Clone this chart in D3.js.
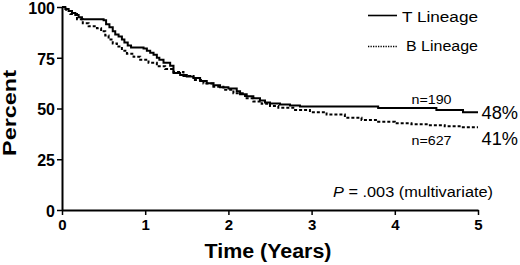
<!DOCTYPE html>
<html>
<head>
<meta charset="utf-8">
<script src="https://cdn.jsdelivr.net/npm/d3@7"></script>
<style>
  body { margin: 0; background: #fff; }
  svg { display: block; font-family: Arial, "Liberation Sans", sans-serif; }
</style>
</head>
<body>
<div id="chart"></div>
<script>
// Kaplan-Meier style step data (time in years, percent)
const tTimes = [0, 0.04, 0.08, 0.12, 0.16, 0.2, 0.24, 0.5, 0.53, 0.57, 0.61, 0.64, 0.68, 0.72, 0.75, 0.79, 0.83,
  0.98, 1.02, 1.06, 1.1, 1.14, 1.17, 1.22, 1.3, 1.34, 1.42, 1.5, 1.58, 1.66, 1.74, 1.82, 1.9, 2.0, 2.1, 2.14,
  2.22, 2.3, 2.38, 2.44, 2.5, 2.62, 2.74, 2.86, 3.8, 4.5, 4.82, 5];
const tValues = [100, 99, 98, 97, 96, 95, 94, 93.5, 91.5, 90, 88, 86.5, 85.5, 84, 82.5, 81, 80,
  79.5, 78.5, 77.5, 76.5, 75, 74, 72.5, 71, 67.5, 66.5, 65.8, 65, 63.5, 62.5, 61.5, 60.5, 59.8, 58.5, 57,
  56, 55, 54, 53, 52.5, 52, 51.5, 51, 50.3, 49.3, 48.2, 48.2];

const bTimes = [0, 0.05, 0.1, 0.18, 0.25, 0.32, 0.42, 0.47, 0.52, 0.56, 0.61, 0.66, 0.72, 0.78, 0.86, 0.94,
  1.04, 1.14, 1.24, 1.34, 1.46, 1.58, 1.7, 1.82, 1.94, 2.06, 2.2, 2.3, 2.4, 2.5, 2.6, 2.78, 2.98, 3.18, 3.4,
  3.6, 3.8, 4.0, 4.2, 4.4, 4.6, 4.8, 5];
const bValues = [100, 98, 96.5, 94, 92, 90.5, 89.5, 88, 86, 84, 82, 80.5, 78.5, 77, 75.5, 74,
  72.5, 70.8, 69.5, 68, 66, 64, 62.3, 60.7, 59.2, 57.5, 55, 53.5, 52.3, 51.2, 50.4, 49.3, 48.2, 47, 45.5,
  44.3, 43.5, 42.7, 42.2, 41.8, 41.2, 40.8, 40.8];

const xTicks = [0, 1, 2, 3, 4, 5];
const yTicks = [0, 25, 50, 75, 100];
const seriesNames = ["T Lineage", "B Lineage"];
const seriesN = ["n=190", "n=627"];
const seriesFinal = ["48%", "41%"];

const W = 520, H = 265;
const svg = d3.select("#chart").append("svg").attr("width", W).attr("height", H);

const x = d3.scaleLinear().domain([0, 5]).range([62, 478]);
const y = d3.scaleLinear().domain([0, 100]).range([210, 7]);

// axes
const yAxis = svg.append("g")
  .attr("transform", "translate(62,0)")
  .call(d3.axisLeft(y).tickValues(yTicks).tickFormat(d3.format("d"))
    .tickSize(5).tickSizeOuter(0).tickPadding(2));
const xAxis = svg.append("g")
  .attr("transform", "translate(0,210)")
  .call(d3.axisBottom(x).tickValues(xTicks).tickFormat(d3.format("d"))
    .tickSize(5).tickSizeOuter(0).tickPadding(3));

[yAxis, xAxis].forEach(g => {
  g.select(".domain").attr("stroke", "#000").attr("stroke-width", 2);
  g.selectAll(".tick line").attr("stroke", "#000").attr("stroke-width", 1.5);
  g.selectAll(".tick text").attr("fill", "#000").attr("font-weight", "bold")
    .attr("font-family", "Arial, 'Liberation Sans', sans-serif");
});
yAxis.selectAll(".tick text").attr("font-size", 16).attr("dy", "0.4em");
xAxis.selectAll(".tick text").attr("font-size", 15).attr("dy", "0.78em");

// curves
const line = d3.line()
  .x(d => x(d[0]))
  .y(d => y(d[1]))
  .curve(d3.curveStepAfter);

const tData = tTimes.map((t, i) => [t, tValues[i]]);
const bData = bTimes.map((t, i) => [t, bValues[i]]);

svg.append("path").datum(bData)
  .attr("d", line).attr("fill", "none").attr("stroke", "#000")
  .attr("stroke-width", 2).attr("stroke-dasharray", "3,2");
svg.append("path").datum(tData)
  .attr("d", line).attr("fill", "none").attr("stroke", "#000")
  .attr("stroke-width", 2);

// axis titles
svg.append("text")
  .attr("x", 268).attr("y", 258)
  .attr("text-anchor", "middle")
  .attr("font-size", 20).attr("font-weight", "bold")
  .attr("textLength", 127).attr("lengthAdjust", "spacingAndGlyphs")
  .text("Time (Years)");
svg.append("text")
  .attr("transform", "translate(16,113) rotate(-90)")
  .attr("text-anchor", "middle")
  .attr("font-size", 18).attr("font-weight", "bold")
  .attr("textLength", 86).attr("lengthAdjust", "spacingAndGlyphs")
  .text("Percent");

// legend
const legend = svg.append("g");
legend.append("line").attr("x1", 368).attr("x2", 397).attr("y1", 15.5).attr("y2", 15.5)
  .attr("stroke", "#000").attr("stroke-width", 1.6);
legend.append("line").attr("x1", 368).attr("x2", 398).attr("y1", 46.5).attr("y2", 46.5)
  .attr("stroke", "#000").attr("stroke-width", 1.3).attr("stroke-dasharray", "1.3,1.2");
legend.append("text").attr("x", 478).attr("y", 21.5).attr("text-anchor", "end")
  .attr("font-size", 14).attr("textLength", 76).attr("lengthAdjust", "spacingAndGlyphs")
  .text(seriesNames[0]);
legend.append("text").attr("x", 478).attr("y", 50.5).attr("text-anchor", "end")
  .attr("font-size", 14).attr("textLength", 72).attr("lengthAdjust", "spacingAndGlyphs")
  .text(seriesNames[1]);

// n labels and final percentages
svg.append("text").attr("x", 411.5).attr("y", 103.5)
  .attr("font-size", 12.5).attr("textLength", 40).attr("lengthAdjust", "spacingAndGlyphs")
  .text(seriesN[0]);
svg.append("text").attr("x", 411.5).attr("y", 145)
  .attr("font-size", 12.5).attr("textLength", 40).attr("lengthAdjust", "spacingAndGlyphs")
  .text(seriesN[1]);
svg.append("text").attr("x", 481.5).attr("y", 118.5)
  .attr("font-size", 18).attr("textLength", 36.5).attr("lengthAdjust", "spacingAndGlyphs")
  .text(seriesFinal[0]);
svg.append("text").attr("x", 481.5).attr("y", 145)
  .attr("font-size", 18).attr("textLength", 36.5).attr("lengthAdjust", "spacingAndGlyphs")
  .text(seriesFinal[1]);

// p-value annotation
const pText = svg.append("text").attr("x", 493).attr("y", 197).attr("text-anchor", "end")
  .attr("font-size", 14).attr("textLength", 160).attr("lengthAdjust", "spacingAndGlyphs");
pText.append("tspan").attr("font-style", "italic").text("P");
pText.append("tspan").text(" = .003 (multivariate)");
</script>
</body>
</html>
